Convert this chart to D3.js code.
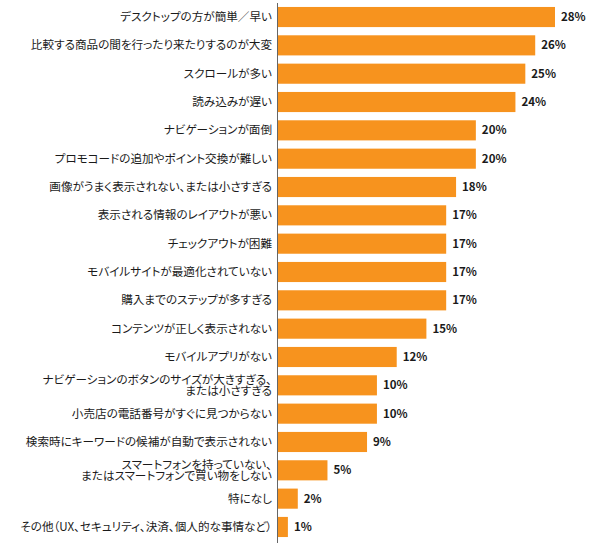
<!DOCTYPE html>
<html>
<head>
<meta charset="utf-8">
<script src="https://cdn.jsdelivr.net/npm/d3@7"></script>
<style>
  body { margin: 0; background: #fff; }
  text { font-family: "Noto Sans CJK JP", "Noto Sans", sans-serif; font-feature-settings: "palt"; }
</style>
</head>
<body>
<div id="chart"></div>
<script>
// categories (multi-line labels split with \n)
const categories = [
  "デスクトップの方が簡単／早い",
  "比較する商品の間を行ったり来たりするのが大変",
  "スクロールが多い",
  "読み込みが遅い",
  "ナビゲーションが面倒",
  "プロモコードの追加やポイント交換が難しい",
  "画像がうまく表示されない、または小さすぎる",
  "表示される情報のレイアウトが悪い",
  "チェックアウトが困難",
  "モバイルサイトが最適化されていない",
  "購入までのステップが多すぎる",
  "コンテンツが正しく表示されない",
  "モバイルアプリがない",
  "ナビゲーションのボタンのサイズが大きすぎる、\nまたは小さすぎる",
  "小売店の電話番号がすぐに見つからない",
  "検索時にキーワードの候補が自動で表示されない",
  "スマートフォンを持っていない、\nまたはスマートフォンで買い物をしない",
  "特になし",
  "その他（UX、セキュリティ、決済、個人的な事情など）"
];

const values = [28, 26, 25, 24, 20, 20, 18, 17, 17, 17, 17, 15, 12, 10, 10, 9, 5, 2, 1];

const width = 600;
const height = 543;
const axisX = 278;

const svg = d3.select("#chart")
  .append("svg")
  .attr("width", width)
  .attr("height", height);

const data = categories.map((c, i) => ({ label: c, value: values[i] }));

const x = d3.scaleLinear()
  .domain([0, 28])
  .range([axisX, 555]);

const y = d3.scaleBand()
  .domain(categories)
  .range([3, 541])
  .paddingInner(0.29)
  .paddingOuter(0.14);

// bars
svg.selectAll(".bar")
  .data(data)
  .enter()
  .append("rect")
  .attr("class", "bar")
  .attr("x", x(0))
  .attr("y", d => y(d.label))
  .attr("width", d => x(d.value) - x(0))
  .attr("height", y.bandwidth())
  .attr("fill", "#F7931E");

// value labels
svg.selectAll(".val")
  .data(data)
  .enter()
  .append("text")
  .attr("class", "val")
  .attr("x", d => x(d.value) + 6)
  .attr("y", d => y(d.label) + y.bandwidth() / 2)
  .attr("dy", "0.35em")
  .attr("font-size", "11.5px")
  .attr("font-weight", "bold")
  .attr("fill", "#1a1a1a")
  .text(d => d.value + "%");

// category labels
const labels = svg.selectAll(".cat")
  .data(data)
  .enter()
  .append("text")
  .attr("class", "cat")
  .attr("text-anchor", "end")
  .attr("font-size", "11.6px")
  .attr("fill", "#1a1a1a")
  .attr("transform", d => `translate(272,${y(d.label) + y.bandwidth() / 2})`);

labels.each(function(d) {
  const lines = d.label.split("\n");
  const lh = 11.5;
  const start = -(lines.length - 1) * lh / 2;
  d3.select(this).selectAll("tspan")
    .data(lines)
    .enter()
    .append("tspan")
    .attr("x", 0)
    .attr("y", (l, i) => start + i * lh)
    .attr("dy", "0.35em")
    .text(l => l);
});

// vertical axis line
svg.append("line")
  .attr("x1", axisX - 0.5)
  .attr("x2", axisX - 0.5)
  .attr("y1", 3)
  .attr("y2", 543)
  .attr("stroke", "#666")
  .attr("stroke-width", 1);
</script>
</body>
</html>
